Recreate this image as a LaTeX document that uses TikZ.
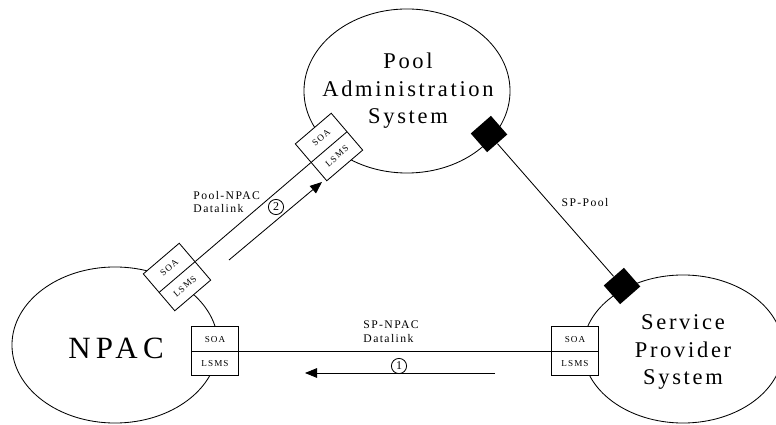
\documentclass[tikz,border=0pt]{standalone}
\usepackage{fontspec}
\setmainfont{Liberation Serif}[LetterSpace=12]
\newfontfamily\widefont{Liberation Serif}[LetterSpace=17]
\usetikzlibrary{shapes.geometric,shapes.multipart,arrows.meta}
\begin{document}
\begin{tikzpicture}[x=0.025cm, y=-0.025cm, line width=0.6pt,
    sys_style/.style={ellipse, draw, inner sep=0pt, align=center, font=\fontsize{16}{19.5}\selectfont},
    iface_style/.style={rectangle split, rectangle split parts=2, draw, fill=white, minimum width=1.18cm,
        inner ysep=6.1pt, text height=4.5pt, text depth=0pt, font=\fontsize{6.5}{7}\selectfont},
    plug_style/.style={rectangle, fill=black, minimum width=0.62cm, minimum height=0.67cm, inner sep=0pt},
    num_style/.style={circle, draw, inner sep=0pt, minimum size=0.38cm, font=\fontsize{8.5}{9}\selectfont},
    lbl_style/.style={align=left, inner sep=0pt, font=\fontsize{8.3}{9.8}\selectfont},
    flow/.style={-{Triangle[length=3mm, width=2.4mm]}}
]
\useasboundingbox (0,0) rectangle (776,425);
% the three systems
\node[sys_style, minimum width=5.15cm, minimum height=4.1cm] (pool) at (407,91) {};
\node[sys_style, minimum width=5.15cm, minimum height=3.9cm] (npac) at (115,345) {};
\node[sys_style, minimum width=5.0cm, minimum height=3.7cm] (sp) at (683,349) {};
\node[font=\fontsize{16}{19.5}\selectfont, align=center] (pool_txt) at (408,91) {Pool\\Administration\\System};
\node[font=\widefont\fontsize{22}{24}\selectfont] (npac_txt) at (116,348) {NPAC};
\node[font=\fontsize{16}{19.5}\selectfont, align=center] (sp_txt) at (683,352) {Service\\Provider\\System};
% interfaces
\node[iface_style] (npac_if) at (215,351) {SOA\nodepart{two}LSMS};
\node[iface_style] (sp_if) at (575,351) {SOA\nodepart{two}LSMS};
\node[iface_style, rotate=40.5] (npac_pif) at (177,277) {SOA\nodepart{two}LSMS};
\node[iface_style, rotate=40.5] (pool_if) at (329,147) {SOA\nodepart{two}LSMS};
\node[plug_style, rotate=-48.8] (pool_plug) at (489,134) {};
\node[plug_style, rotate=-48.8] (sp_plug) at (622,286) {};
% links
\draw (npac_if.text split east) -- (sp_if.text split west);
\draw (npac_pif.text split east) -- (pool_if.text split west);
\draw (pool_plug) -- (sp_plug);
\node[lbl_style, anchor=west] (sp_npac_lbl) at (363,332) {SP-NPAC\\Datalink};
\node[lbl_style, anchor=west] (pool_npac_lbl) at (193,202) {Pool-NPAC\\Datalink};
\node[lbl_style] (sp_pool_lbl) at (585,203) {SP-Pool};
% flows
\coordinate (f1_start) at (495,373);
\coordinate (f1_end) at (305,373);
\draw[flow] (f1_start) -- (f1_end);
\node[num_style] (f1_num) at (399,366) {1};
\coordinate (f2_start) at (229,260);
\coordinate (f2_end) at (322,182);
\draw[flow] (f2_start) -- (f2_end);
\node[num_style] (f2_num) at (276,207) {2};
\end{tikzpicture}
\end{document}
